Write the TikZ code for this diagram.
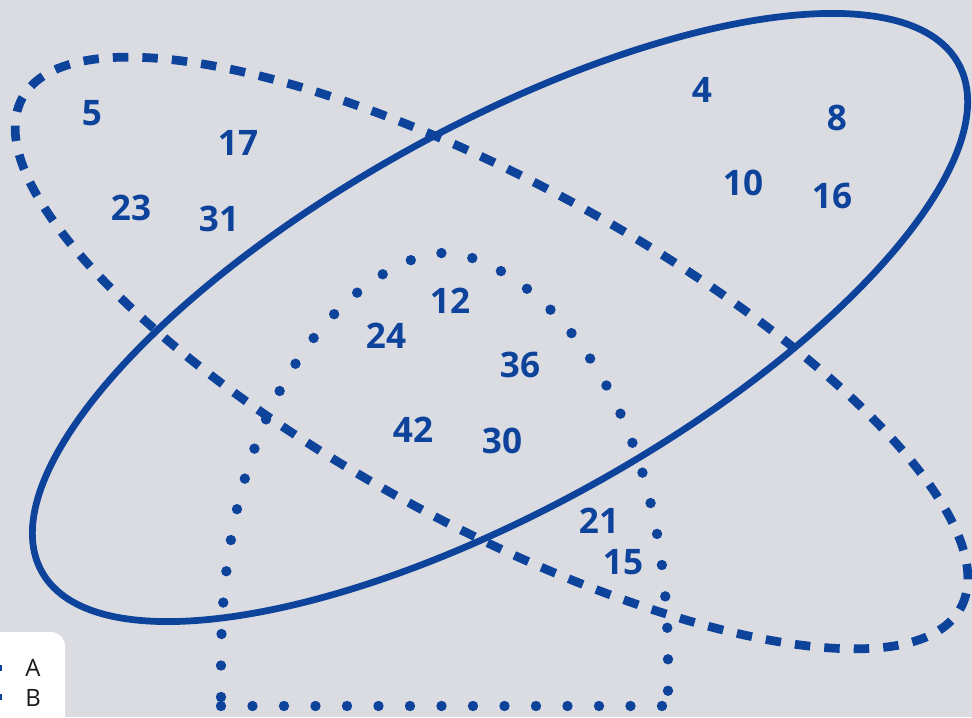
\documentclass[tikz,border=0pt]{standalone}
\usepackage{fontspec}
\setmainfont{Open Sans}
\usetikzlibrary{positioning}
\definecolor{vnblue}{HTML}{0E439C}
\definecolor{vnback}{HTML}{DADCE2}
\definecolor{vnink}{HTML}{1A1A1A}

\begin{document}
\begin{tikzpicture}[x=0.025cm,y=0.025cm,
  num/.style={font=\fontsize{25}{30}\selectfont\bfseries,text=vnblue,inner sep=0pt},
  setA/.style={draw=vnblue,line width=4.8pt},
  setB/.style={draw=vnblue,line width=6.2pt,dash pattern=on 11pt off 10pt},
  setC/.style={draw=vnblue,line width=7.4pt,line cap=round,dash pattern=on 0pt off 22.4pt},
  legtext/.style={font=\fontsize{17}{20}\selectfont,text=vnink,inner sep=0pt}]

  \useasboundingbox (0,0) rectangle (972,717);
  \clip (0,0) rectangle (972,717);

  % ---- Background ------------------------------------------------
  \fill[vnback] (0,0) rectangle (972,717);

  % ---- Dotted set (arch) -----------------------------------------
  \draw[setC] (221,20) -- (221,54)
    .. controls (221,354) and (378.5,464) .. (444.5,464)
    .. controls (510.5,464) and (668,354) .. (668,54) -- (668,20);
  \draw[setC] (221,11) -- (668,11);

  % ---- Dashed set ------------------------------------------------
  \draw[setB,rotate around={-28.5:(491.5,364)}]
    (491.5,364) ellipse [x radius=534,y radius=171];

  % ---- Solid set -------------------------------------------------
  \draw[setA,rotate around={29:(500,399.5)}]
    (500,399.5) ellipse [x radius=524,y radius=191];

  % ---- Elements --------------------------------------------------
  \node[num] (n5)  at (92,604)  {5};
  \node[num] (n17) at (238,574) {17};
  \node[num] (n23) at (131,509) {23};
  \node[num] (n31) at (219,498) {31};
  \node[num] (n4)  at (702,627) {4};
  \node[num] (n8)  at (837,599) {8};
  \node[num] (n10) at (743,534) {10};
  \node[num] (n16) at (832,521) {16};
  \node[num] (n12) at (450,416) {12};
  \node[num] (n24) at (386,381) {24};
  \node[num] (n36) at (520,352) {36};
  \node[num] (n42) at (413,287) {42};
  \node[num] (n30) at (502,276) {30};
  \node[num] (n21) at (599,196) {21};
  \node[num] (n15) at (623,155) {15};

  % ---- Legend ----------------------------------------------------
  \fill[white,rounded corners=10pt] (-20,-20) rectangle (65,85);
  \fill[vnblue] (0,46) rectangle (2,52);
  \fill[vnblue] (0,17) rectangle (2,23);
  \node[legtext] (legA) at (33,49) {A};
  \node[legtext] (legB) at (33,19) {B};

\end{tikzpicture}
\end{document}
